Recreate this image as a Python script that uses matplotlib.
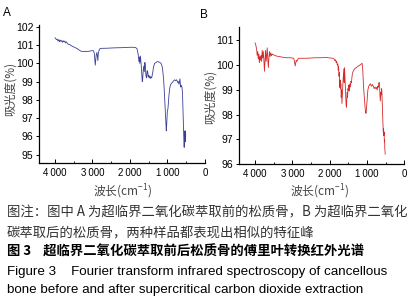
import matplotlib.pyplot as plt
from matplotlib.ticker import FixedLocator

#Spectrum A: before supercritical CO2 extraction (blue)
wn_a = [4000, 3980, 3960, 3940, 3920, 3900, 3880, 3860, 3840, 3820,
        3800, 3780, 3760, 3740, 3720, 3700, 3650, 3600, 3550, 3500,
        3450, 3400, 3350, 3300, 3200, 3100, 3000, 2970, 2950, 2935,
        2925, 2915, 2900, 2880, 2865, 2855, 2845, 2820, 2790, 2600,
        2400, 2200, 2000, 1900, 1850, 1810, 1780, 1760, 1745, 1735,
        1720, 1700, 1685, 1670, 1660, 1645, 1630, 1615, 1600, 1590,
        1575, 1560, 1550, 1540, 1525, 1510, 1495, 1480, 1465, 1450,
        1435, 1420, 1405, 1390, 1370, 1340, 1300, 1270, 1230, 1200,
        1170, 1150, 1130, 1115, 1100, 1085, 1070, 1055, 1045, 1035,
        1028, 1020, 1010, 1000, 985, 970, 955, 940, 920, 895,
        870, 850, 830, 805, 780, 750, 725, 705, 690, 675,
        665, 655, 645, 630, 615, 605, 598, 592, 585, 578,
        572, 566, 560, 555, 550, 545, 540, 535, 530, 525,
        520, 515, 510]
tr_a = [101.40, 101.35, 101.30, 101.33, 101.22, 101.30, 101.18, 101.28, 101.20, 101.25,
        101.15, 101.24, 101.18, 101.22, 101.12, 101.18, 101.05, 101.02, 100.95, 100.90,
        100.85, 100.80, 100.72, 100.66, 100.65, 100.66, 100.70, 100.68, 100.55, 100.20,
        99.90, 100.10, 100.45, 100.60, 100.30, 100.15, 100.50, 100.75, 100.82, 100.83,
        100.85, 100.86, 100.88, 100.88, 100.87, 100.80, 100.50, 100.10, 100.35, 100.00,
        100.40, 99.95, 99.50, 99.00, 99.10, 99.60, 99.85, 99.55, 100.05, 99.90,
        99.40, 99.20, 99.30, 99.60, 99.55, 99.25, 99.35, 99.20, 99.30, 99.18,
        99.25, 99.20, 99.35, 99.50, 99.80, 100.00, 100.05, 100.10, 100.08, 100.05,
        100.00, 99.90, 99.75, 99.45, 99.10, 98.60, 98.00, 97.40, 97.00, 96.60,
        96.30, 96.55, 97.00, 97.40, 97.50, 97.90, 98.30, 98.60, 98.80, 98.90,
        98.95, 99.00, 99.05, 99.10, 99.05, 99.10, 98.95, 99.00, 98.85, 99.05,
        99.15, 98.90, 98.70, 98.80, 98.75, 98.60, 98.40, 98.10, 97.60, 97.20,
        96.80, 96.30, 95.90, 95.50, 95.40, 95.70, 96.10, 96.30, 95.90, 95.70,
        96.10, 96.30, 96.00]

#Spectrum B: after supercritical CO2 extraction (red)
wn_b = [4000, 3980, 3960, 3945, 3930, 3915, 3900, 3885, 3870, 3855,
        3840, 3825, 3810, 3795, 3780, 3765, 3750, 3735, 3720, 3705,
        3690, 3675, 3660, 3645, 3630, 3615, 3600, 3580, 3560, 3540,
        3510, 3450, 3400, 3330, 3250, 3150, 3050, 2970, 2950, 2935,
        2925, 2910, 2895, 2880, 2860, 2840, 2800, 2600, 2400, 2250,
        2100, 1990, 1920, 1880, 1860, 1840, 1825, 1810, 1795, 1780,
        1770, 1760, 1750, 1740, 1730, 1720, 1710, 1700, 1690, 1680,
        1670, 1660, 1650, 1640, 1630, 1620, 1610, 1600, 1590, 1580,
        1570, 1560, 1550, 1540, 1530, 1520, 1510, 1500, 1490, 1480,
        1470, 1460, 1450, 1440, 1430, 1415, 1400, 1390, 1370, 1355,
        1330, 1310, 1280, 1250, 1210, 1175, 1150, 1130, 1120, 1110,
        1100, 1090, 1075, 1060, 1045, 1035, 1025, 1015, 1005, 995,
        985, 975, 960, 950, 930, 910, 890, 875, 855, 840,
        820, 805, 785, 760, 740, 725, 710, 700, 685, 670,
        660, 650, 642, 635, 625, 615, 605, 598, 590, 580,
        570, 562, 555, 548, 540, 533, 526, 520, 515, 510]
tr_b = [100.90, 100.80, 100.65, 100.40, 100.55, 100.25, 100.45, 100.10, 100.35, 100.20,
        100.40, 100.15, 100.60, 100.30, 100.55, 100.20, 99.75, 100.20, 100.60, 100.15,
        100.40, 100.70, 100.25, 99.90, 100.30, 100.55, 100.35, 100.50, 100.38, 100.45,
        100.42, 100.38, 100.36, 100.34, 100.32, 100.30, 100.30, 100.28, 100.20, 100.05,
        99.97, 100.10, 100.20, 100.15, 100.22, 100.27, 100.28, 100.28, 100.30, 100.30,
        100.31, 100.29, 100.28, 100.25, 100.18, 100.22, 100.10, 100.15, 100.00, 100.05,
        99.80, 99.95, 99.55, 99.70, 99.10, 99.40, 99.05, 99.25, 98.70, 99.00,
        98.45, 98.80, 99.10, 99.40, 99.60, 99.85, 99.30, 99.90, 99.50, 99.20,
        98.80, 98.40, 98.30, 98.60, 98.90, 98.70, 99.05, 99.00, 99.20, 98.95,
        99.20, 99.10, 99.25, 99.15, 99.35, 99.30, 99.55, 99.65, 99.75, 99.80,
        99.85, 99.88, 99.90, 99.95, 99.98, 100.02, 100.05, 100.08, 99.95, 99.75,
        99.45, 99.10, 98.80, 98.45, 98.20, 98.10, 98.05, 98.20, 98.40, 98.60,
        98.85, 99.00, 99.10, 99.15, 99.20, 99.25, 99.18, 99.15, 99.22, 99.18,
        99.10, 99.05, 99.12, 99.05, 99.10, 99.00, 99.15, 99.10, 99.25, 99.30,
        99.10, 98.80, 98.55, 98.70, 98.90, 98.80, 99.05, 98.90, 98.50, 98.00,
        97.60, 97.30, 97.45, 97.15, 97.30, 96.90, 97.00, 96.60, 96.55, 96.40]

#Axis ticks and caption text
x_ticks = [4000, 3000, 2000, 1000, 0]
x_labels = ["4\u2009000", "3\u2009000", "2\u2009000", "1\u2009000", "0"]
y_ticks_a = [95, 96, 97, 98, 99, 100, 101, 102]
y_ticks_b = [96, 97, 98, 99, 100, 101]
panel_names = ["A", "B"]
y_title = "吸光度(%)"
x_title = "波长(cm$^{-1}$)"
caption = [
    "图注：图中 A 为超临界二氧化碳萃取前的松质骨，B 为超临界二氧化",
    "碳萃取后的松质骨，两种样品都表现出相似的特征峰",
]
fig_title_cn = "图 3    超临界二氧化碳萃取前后松质骨的傅里叶转换红外光谱"
fig_title_en = ["Figure 3    Fourier transform infrared spectroscopy of cancellous",
                "bone before and after supercritical carbon dioxide extraction"]

plt.rcParams['font.family'] = ['Liberation Sans', 'Noto Sans CJK SC', 'DejaVu Sans']
plt.rcParams['mathtext.default'] = 'regular'
cjk = ['Noto Sans CJK SC', 'Liberation Sans', 'DejaVu Sans']

fig = plt.figure(figsize=(4.18, 3.05), dpi=100)

ax_a = fig.add_axes([0.093, 0.466, 0.397, 0.452])
ax_b = fig.add_axes([0.572, 0.462, 0.395, 0.450])

panels = [(ax_a, wn_a, tr_a, "#3b3f95", y_ticks_a, (94.55, 102.1)),
          (ax_b, wn_b, tr_b, "#d42a2a", y_ticks_b, (96.0, 101.55))]

for ax, wn, tr, col, yt, ylim in panels:
    ax.plot(wn, tr, color=col, lw=0.6)
    ax.set_xlim(4430, 0)
    ax.set_ylim(*ylim)
    ax.spines['top'].set_visible(False)
    ax.spines['right'].set_visible(False)
    ax.spines['left'].set_linewidth(0.9)
    ax.spines['bottom'].set_linewidth(0.9)
    ax.xaxis.set_major_locator(FixedLocator(x_ticks))
    ax.xaxis.set_minor_locator(FixedLocator([3500, 2500, 1500, 500]))
    ax.set_xticklabels(x_labels)
    ax.set_yticks(yt)
    ax.tick_params(axis='x', which='major', direction='in', length=3, width=0.7,
                   labelsize=7, pad=3.5)
    ax.tick_params(axis='x', which='minor', direction='in', length=1.5, width=0.6)
    ax.tick_params(axis='y', direction='out', length=2.5, width=0.7, labelsize=7.5, pad=1.5)
    ax.patch.set_alpha(0)

#Panel letters and axis titles
fig.text(7 / 418, 1 - 13 / 305, panel_names[0], fontsize=8.5, ha='center', va='center')
fig.text(204 / 418, 1 - 15 / 305, panel_names[1], fontsize=8.5, ha='center', va='center')
fig.text(10 / 418, 1 - 89 / 305, y_title, family=cjk, fontsize=8.5, color='#444444',
         rotation=90, ha='center', va='center')
fig.text(210 / 418, 1 - 97 / 305, y_title, family=cjk, fontsize=8.5, color='#444444',
         rotation=90, ha='center', va='center')
fig.text(123 / 418, 1 - 192 / 305, x_title, family=cjk, fontsize=8.5, color='#444444',
         ha='center', va='center')
fig.text(320 / 418, 1 - 192 / 305, x_title, family=cjk, fontsize=8.5, color='#444444',
         ha='center', va='center')

#Caption block
fig.text(7 / 418, 1 - 212 / 305, caption[0], family=cjk, fontsize=9.6, color='#333333', va='center')
fig.text(7 / 418, 1 - 232 / 305, caption[1], family=cjk, fontsize=9.6, color='#333333', va='center')
fig.text(7 / 418, 1 - 252 / 305, fig_title_cn, family=cjk, fontsize=9.6, weight='bold', va='center')
fig.text(7 / 418, 1 - 272 / 305, fig_title_en[0], fontsize=9.6, va='center')
fig.text(7 / 418, 1 - 290 / 305, fig_title_en[1], fontsize=9.6, va='center')

fig.savefig("out.png", dpi=100)
